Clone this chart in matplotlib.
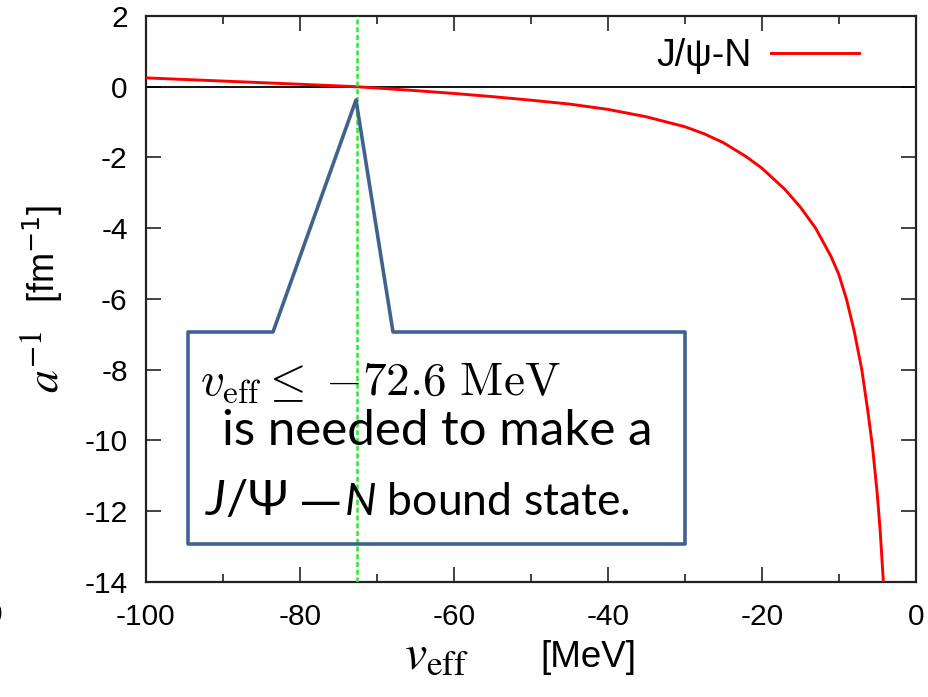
import matplotlib
matplotlib.use("Agg")
import matplotlib.pyplot as plt
from matplotlib.patches import Polygon

plt.rcParams['font.family'] = ['Liberation Sans', 'DejaVu Sans']
plt.rcParams['mathtext.fontset'] = 'custom'
plt.rcParams['mathtext.rm'] = 'Lato'
plt.rcParams['mathtext.it'] = 'Lato:italic'

# inverse scattering length of J/psi-N versus effective potential depth
v_eff = [-100, -90, -80, -72.6, -65, -60, -55, -50, -45, -40, -35, -30, -27.5,
         -25, -22, -20, -17, -15, -13, -11, -10, -9, -8, -7, -6.2, -5.6,
         -5.0, -4.6, -4.2]
inv_a = [0.25, 0.16, 0.07, 0.0, -0.11, -0.19, -0.28, -0.38, -0.49, -0.64,
         -0.85, -1.13, -1.33, -1.58, -1.98, -2.3, -2.9, -3.4, -4.0, -4.8,
         -5.3, -6.0, -6.9, -8.0, -9.2, -10.2, -11.5, -12.6, -14.0]
v_threshold = -72.6
series_label = "J/ψ-N"

x_major = [-100, -80, -60, -40, -20, 0]
x_minor = [-90, -70, -50, -30, -10]
y_major = [2, 0, -2, -4, -6, -8, -10, -12, -14]

W, H = 929, 697
fig = plt.figure(figsize=(W / 100, H / 100), dpi=100)


def fx(x):
    return x / W


def fy(y):
    return 1 - y / H


ax = fig.add_axes([fx(145.7), fy(581.7), (915.7 - 145.7) / W, (581.7 - 16) / H])
ax.set_xlim(-100, 0)
ax.set_ylim(-14, 2)

ax.plot(v_eff, inv_a, color='#ff0000', lw=2.1, label=series_label, zorder=3,
        solid_joinstyle='round')
ax.axhline(0, color='black', lw=1.3, zorder=2)
ax.axvline(v_threshold, color='#2ee82e', lw=1.8, dashes=(2.0, 1.1), zorder=4)

ax.set_xticks(x_major)
ax.set_xticks(x_minor, minor=True)
ax.set_yticks(y_major)
ax.set_xticklabels([f"{v:d}" for v in x_major])
ax.set_yticklabels([f"{v:d}" for v in y_major])
ax.tick_params(which='both', direction='in', top=True, right=True,
               color='#222222', width=1.2, labelsize=21.5)
ax.tick_params(which='major', length=11)
ax.tick_params(which='minor', length=6)
ax.tick_params(axis='y', pad=13)
ax.tick_params(axis='x', pad=15)
for s in ax.spines.values():
    s.set_linewidth(1.6)
    s.set_color('#222222')

# axis titles: large serif italic symbol followed by the unit in sans
fig.text(fx(404), fy(668), r"$v_{\rm eff}$", fontsize=36,
         math_fontfamily='stix', ha='left', va='baseline')
fig.text(fx(540), fy(667), "[MeV]", fontsize=26.5, ha='left', va='baseline')
fig.text(fx(46), fy(362), r"$a^{-1}$", fontsize=33, math_fontfamily='stix',
         rotation=90, ha='center', va='center')
fig.text(fx(43), fy(254), r"[fm$^{-1}$]", fontsize=26, math_fontfamily='dejavusans',
         rotation=90, ha='center', va='center')

ax.legend(loc='center right', bbox_to_anchor=(fx(859), fy(55.7)),
          bbox_transform=fig.transFigure, frameon=False, markerfirst=False,
          fontsize=27, handlelength=2.35, handletextpad=0.5,
          borderpad=0, borderaxespad=0)

# speech-bubble callout pointing at the threshold
bubble = [(188, 332), (273, 332), (356, 100), (393, 332), (685, 332),
          (685, 544), (188, 544)]
poly = Polygon([(fx(x), fy(y)) for x, y in bubble], closed=True,
               transform=fig.transFigure, facecolor='none',
               edgecolor='#41628f', lw=2.6, joinstyle='round', zorder=5)
fig.add_artist(poly)

fig.text(fx(200), fy(395),
         r"$v_{\rm eff} \leq\;{-}%.1f\ {\rm MeV}$" % abs(v_threshold),
         fontsize=34, math_fontfamily='cm', va='baseline', ha='left')
fig.text(fx(222), fy(445), "is needed to make a", family='Lato',
         fontsize=35.5, va='baseline', ha='left')
fig.text(fx(205), fy(515), r"$J/\Psi$", fontsize=35.5, va='baseline', ha='left',
         math_fontfamily='custom')
fig.text(fx(300), fy(515), "—", family='DejaVu Sans', fontsize=30,
         va='baseline', ha='left')
fig.text(fx(344), fy(515), r"$N$ bound state.", family='Lato', fontsize=32,
         va='baseline', ha='left', math_fontfamily='custom')

fig.text(fx(-6), fy(615), "0", fontsize=21.5, ha='center', va='center')

fig.savefig("out.png", dpi=100)
